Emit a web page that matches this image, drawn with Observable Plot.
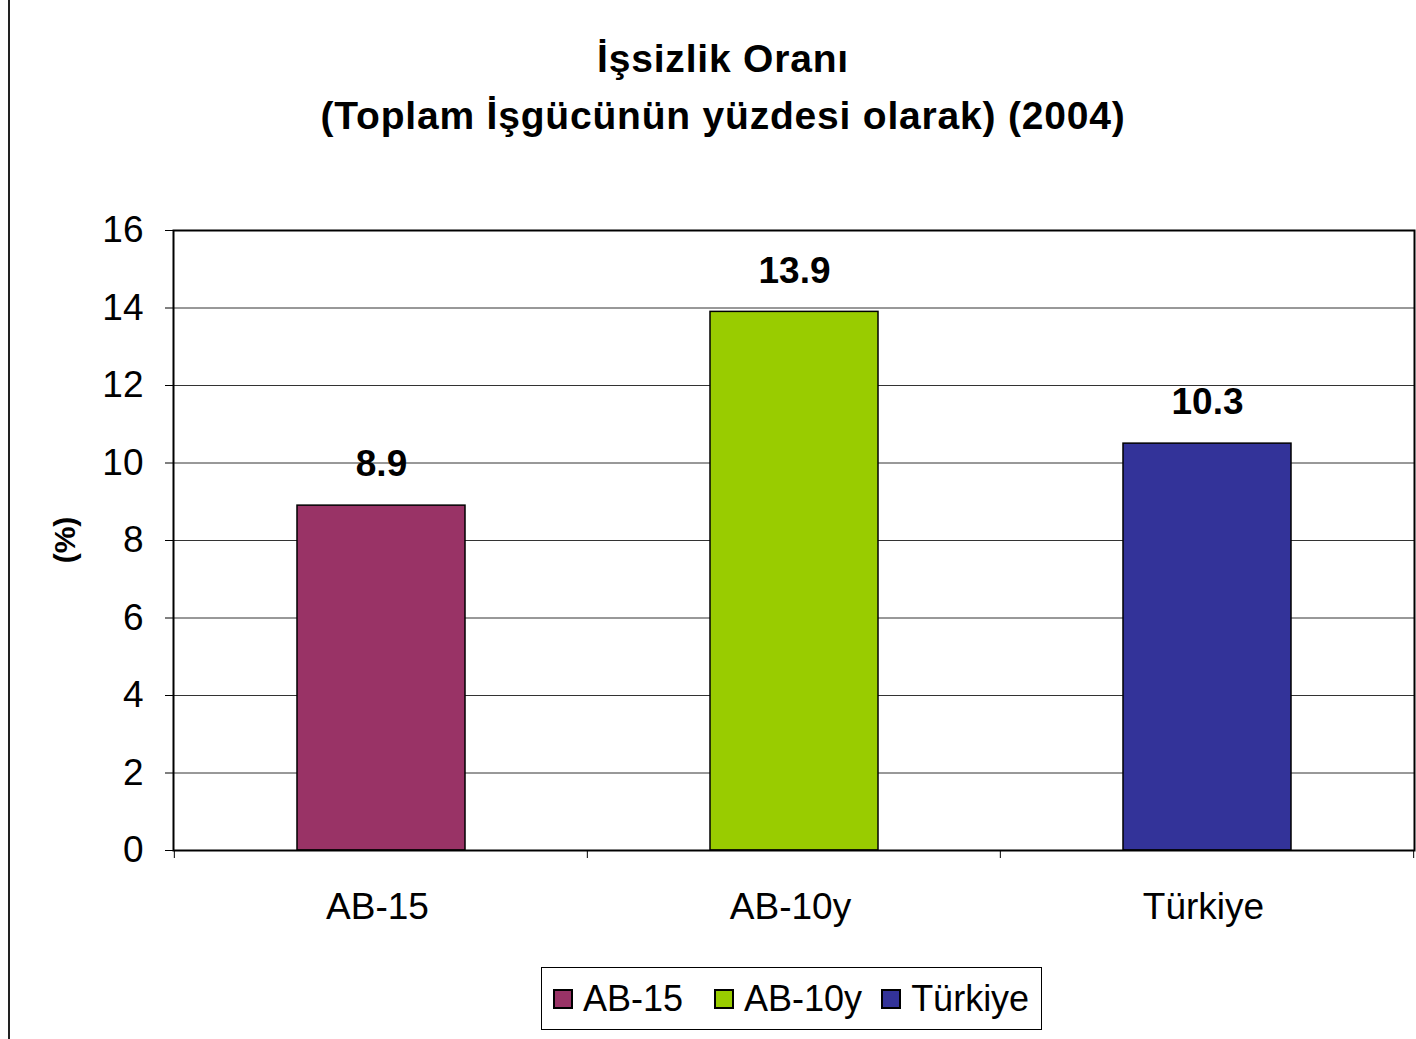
<!DOCTYPE html>
<html>
<head>
<meta charset="utf-8">
<script src="https://cdn.jsdelivr.net/npm/d3@7"></script>
<script src="https://cdn.jsdelivr.net/npm/@observablehq/plot@0.6"></script>
<style>
  html, body { margin: 0; padding: 0; background: #fff; }
  body { width: 1416px; height: 1039px; position: relative; overflow: hidden; font-family: "Liberation Sans", Arial, sans-serif; }
  #frameLeft { position: absolute; left: 8px; top: 0; width: 2px; height: 1039px; background: #222; }
  #title { position: absolute; left: 0; width: 1446px; top: 30px; text-align: center; font-family: "Liberation Sans", Arial, sans-serif; font-weight: bold; font-size: 39px; letter-spacing: 0.8px; line-height: 57px; color: #000; }
  #ylabel { position: absolute; left: 65px; top: 540px; transform: translate(-50%, -50%) rotate(-90deg); font-weight: bold; font-size: 30px; white-space: nowrap; }
  #chart { position: absolute; left: 0; top: 0; }
  #legend { position: absolute; left: 541px; top: 967px; width: 501px; height: 63px; border: 1px solid #000; display: flex; align-items: center; justify-content: flex-start; padding-left: 11px; font-size: 36px; box-sizing: border-box; }
  .item { display: flex; align-items: center; gap: 10px; }
  .sw { width: 20px; height: 20px; border: 2px solid #000; box-sizing: border-box; }
</style>
</head>
<body>
<div id="frameLeft"></div>
<div id="chart"></div>
<div id="title">İşsizlik Oranı<br>(Toplam İşgücünün yüzdesi olarak) (2004)</div>
<div id="ylabel">(%)</div>
<div id="legend"></div>
<script>
const categories = ["AB-15", "AB-10y", "Türkiye"];
const values = [8.9, 13.9, 10.5];
const valueLabels = ["8.9", "13.9", "10.3"];
const colors = ["#993366", "#99CC00", "#333399"];
const yTicks = [0, 2, 4, 6, 8, 10, 12, 14, 16];

const data = categories.map((c, i) => ({cat: c, value: values[i], label: valueLabels[i]}));

const pInner = 0.594;

// custom mark: tick marks at the category boundaries, derived from the x scale
function boundaryTicks() {
  return (index, scales, values, dims) => {
    const x = scales.scales.x;
    const step = x.step;
    const pos = categories.map(c => scales.x(c) - step * pInner / 2);
    pos.push(scales.x(categories[categories.length - 1]) + x.bandwidth + step * pInner / 2);
    const g = d3.create("svg:g");
    const y0 = dims.height - dims.marginBottom;
    g.selectAll("line").data(pos).join("line")
      .attr("x1", d => d).attr("x2", d => d)
      .attr("y1", y0).attr("y2", y0 + 8)
      .attr("stroke", "#000").attr("stroke-width", 1);
    return g.node();
  };
}

const chart = Plot.plot({
  width: 1416,
  height: 1039,
  marginTop: 230,
  marginBottom: 189,
  marginLeft: 173,
  marginRight: 2,
  style: { fontFamily: "'Liberation Sans', Arial, sans-serif", background: "transparent", overflow: "visible" },
  x: { domain: categories, paddingInner: pInner, paddingOuter: pInner / 2, align: 0.5, label: null },
  y: { domain: [0, 16], label: null },
  color: { domain: categories, range: colors },
  marks: [
    Plot.gridY(yTicks, { stroke: "#333", strokeOpacity: 1, strokeWidth: 1 }),
    Plot.axisY(yTicks, { tickSize: 8, tickPadding: 22, fontSize: 37, tickFormat: d => String(d), stroke: "#000", strokeWidth: 1, label: null }),
    Plot.axisX({ tickSize: 0, tickPadding: 42, fontSize: 37, label: null, dx: -4 }),
    Plot.barY(data, { x: "cat", y: "value", fill: "cat", stroke: "#000", strokeWidth: 1.5 }),
    Plot.text(data, { x: "cat", y: "value", text: "label", dy: -41, lineAnchor: "middle", fontSize: 37, fontWeight: "bold", fill: "#000" }),
    Plot.frame({ stroke: "#000", strokeWidth: 2 }),
    boundaryTicks()
  ]
});
document.getElementById("chart").appendChild(chart);

const legend = document.getElementById("legend");
const legendGaps = [0, 31, 19];
categories.forEach((c, i) => {
  const it = document.createElement("div");
  it.className = "item";
  it.style.marginLeft = legendGaps[i] + "px";
  const sw = document.createElement("div");
  sw.className = "sw";
  sw.style.background = colors[i];
  const t = document.createElement("span");
  t.textContent = c;
  it.appendChild(sw);
  it.appendChild(t);
  legend.appendChild(it);
});
</script>
</body>
</html>
